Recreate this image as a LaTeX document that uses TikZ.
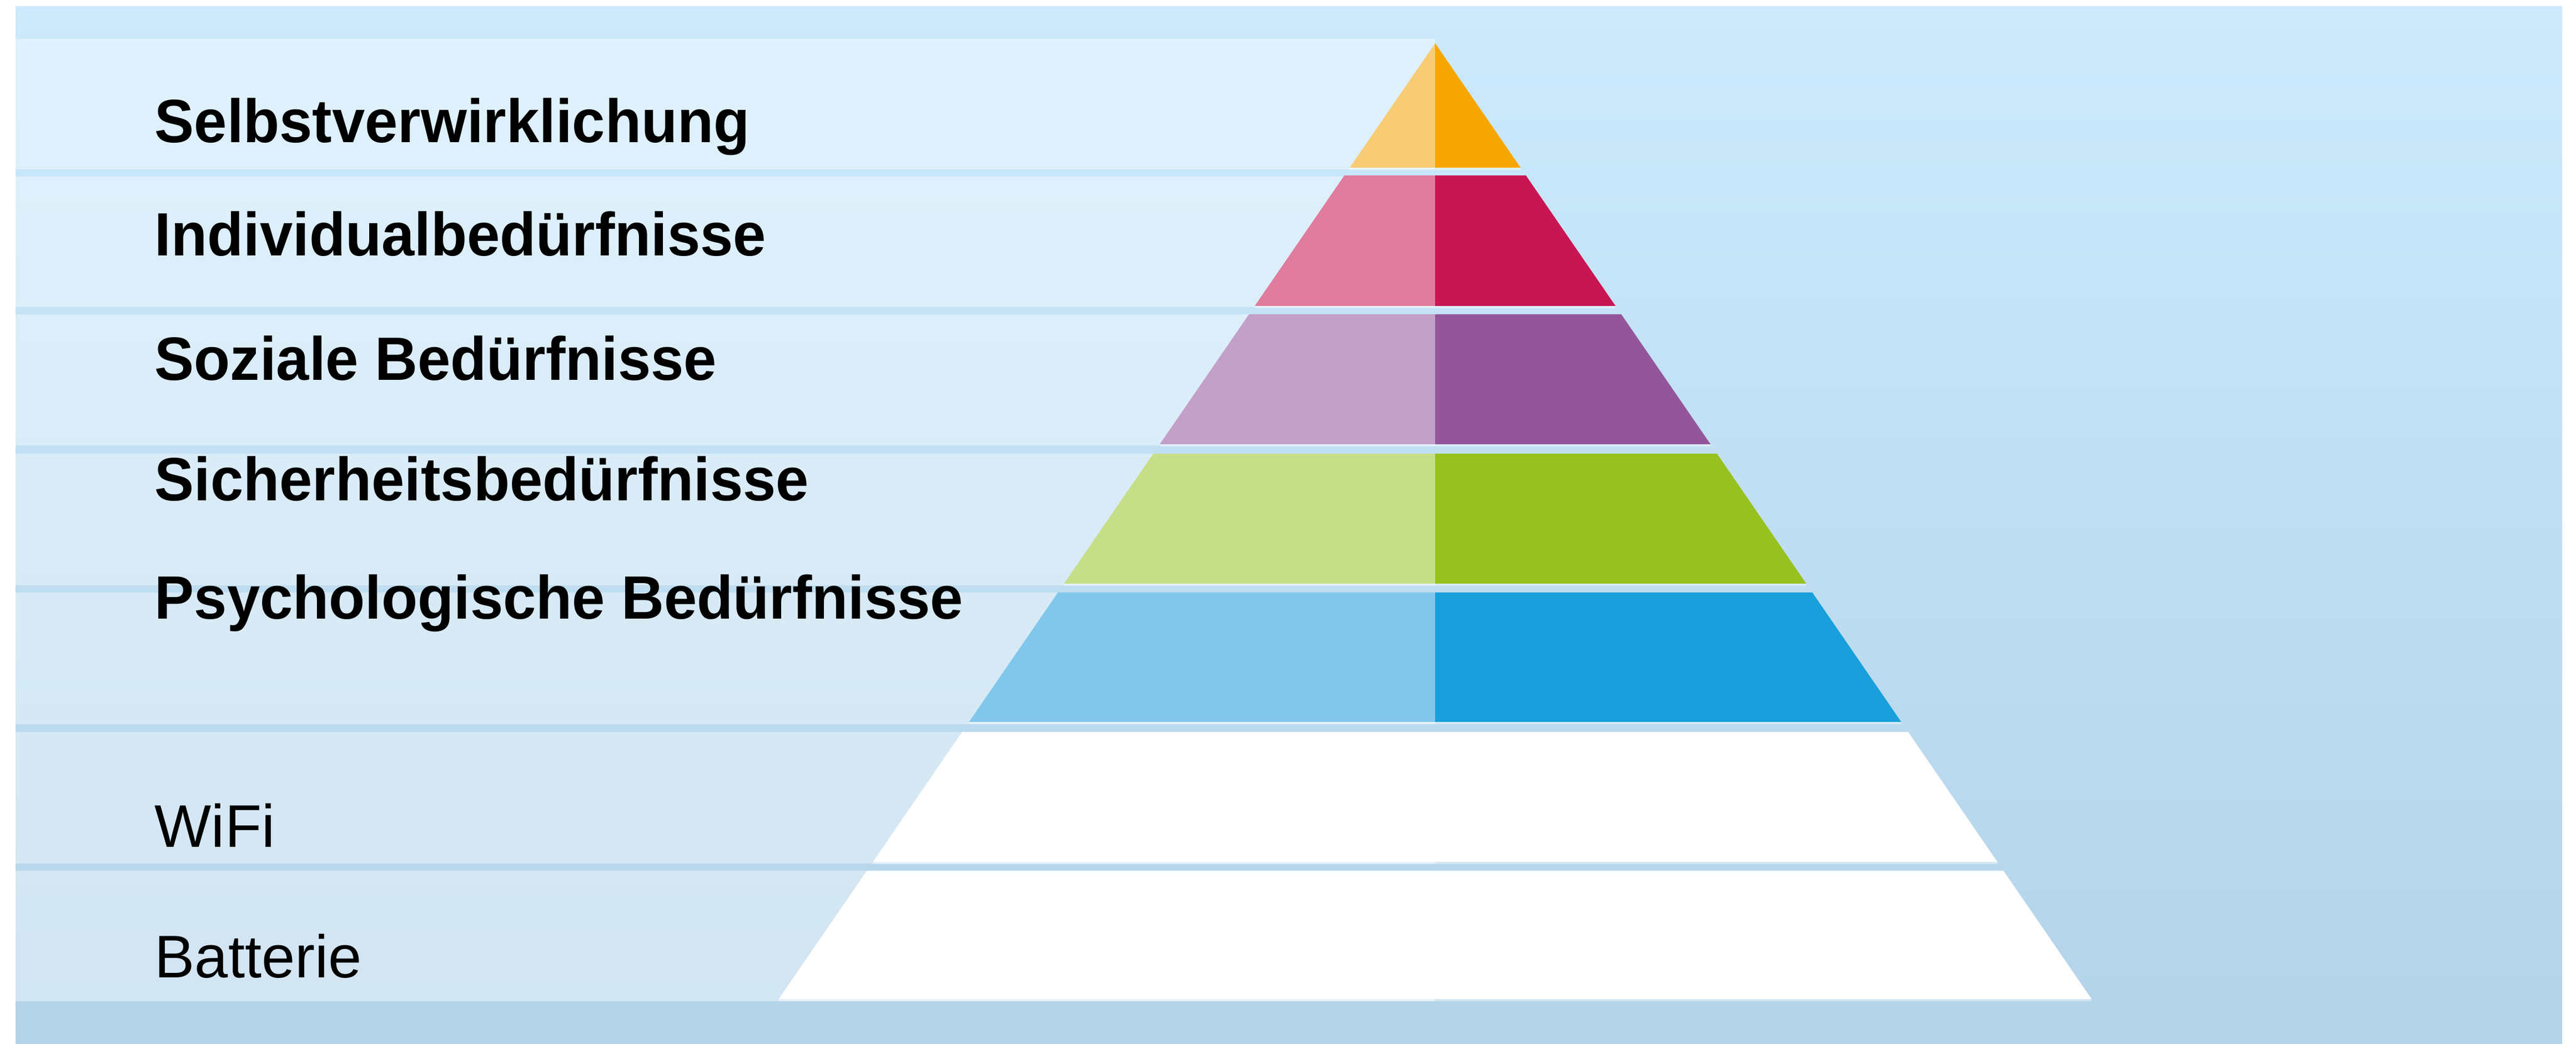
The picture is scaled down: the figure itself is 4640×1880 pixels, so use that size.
\documentclass[tikz,border=0pt]{standalone}
\usepackage{fontspec}
\usepackage{graphicx}
\setmainfont{Liberation Sans}
\definecolor{bgtop}{HTML}{CCEAFC}
\definecolor{bgbot}{HTML}{B4D3E9}
\definecolor{olight}{HTML}{F8CC75}
\definecolor{odark}{HTML}{F6A600}
\definecolor{plight}{HTML}{E07C9E}
\definecolor{pdark}{HTML}{C81652}
\definecolor{ulight}{HTML}{C3A0C8}
\definecolor{udark}{HTML}{94569B}
\definecolor{glight}{HTML}{C6DE87}
\definecolor{gdark}{HTML}{96C11F}
\definecolor{blight}{HTML}{80C7EB}
\definecolor{bdark}{HTML}{199FDB}
\newcommand{\narrowtext}[1]{\scalebox{0.968}[1]{#1}}
\tikzset{
  lblbold/.style={anchor=base west, inner sep=0pt, font=\fontsize{31.3}{36}\selectfont\bfseries, text=black},
  lblreg/.style={anchor=base west, inner sep=0pt, font=\fontsize{30.8}{36}\selectfont, text=black},
  stripe/.style={fill=white, fill opacity=0.4},
  bevel/.style={fill=white, fill opacity=0.4}
}
\begin{document}
\begin{tikzpicture}[x=0.01cm,y=-0.01cm]
\useasboundingbox (0,0) rectangle (4640,1880);
\fill[white] (0,0) rectangle (4640,1880);
\shade[top color=bgtop, bottom color=bgbot] (28,12) rectangle (4615,1880);
% left stripes
\foreach \t/\b in {70/305, 318/553, 566/802, 817/1054, 1067/1304, 1318/1555, 1568/1803}{
  \fill[stripe] (28,\t) rectangle (2585,\b);
}
% pyramid layers
\foreach \t/\b/\cl/\cd in {78/302/olight/odark, 316/551/plight/pdark, 566/800/ulight/udark, 817/1051/glight/gdark, 1067/1300/blight/bdark, 1318/1552/white/white, 1568/1799/white/white}{
  \pgfmathsetmacro\lt{2585-0.687*(\t-78)}
  \pgfmathsetmacro\lb{2585-0.687*(\b-78)}
  \pgfmathsetmacro\rt{2585+0.687*(\t-78)}
  \pgfmathsetmacro\rb{2585+0.687*(\b-78)}
  \fill[\cl] (\lt,\t) -- (2585,\t) -- (2585,\b) -- (\lb,\b) -- cycle;
  \fill[\cd] (2585,\t) -- (\rt,\t) -- (\rb,\b) -- (2585,\b) -- cycle;
  \fill[bevel] (\lb,\b) rectangle (\rb,\b+4);
}
% labels
\node[lblbold] (l1) at (278,257) {\narrowtext{Selbstverwirklichung}};
\node[lblbold] (l2) at (278,461) {\narrowtext{Individualbedürfnisse}};
\node[lblbold] (l3) at (278,685) {\narrowtext{Soziale Bedürfnisse}};
\node[lblbold] (l4) at (278,902) {\narrowtext{Sicherheitsbedürfnisse}};
\node[lblbold] (l5) at (278,1114) {\narrowtext{Psychologische Bedürfnisse}};
\node[lblreg] (l6) at (278,1525) {WiFi};
\node[lblreg] (l7) at (278,1760) {Batterie};
\end{tikzpicture}
\end{document}
